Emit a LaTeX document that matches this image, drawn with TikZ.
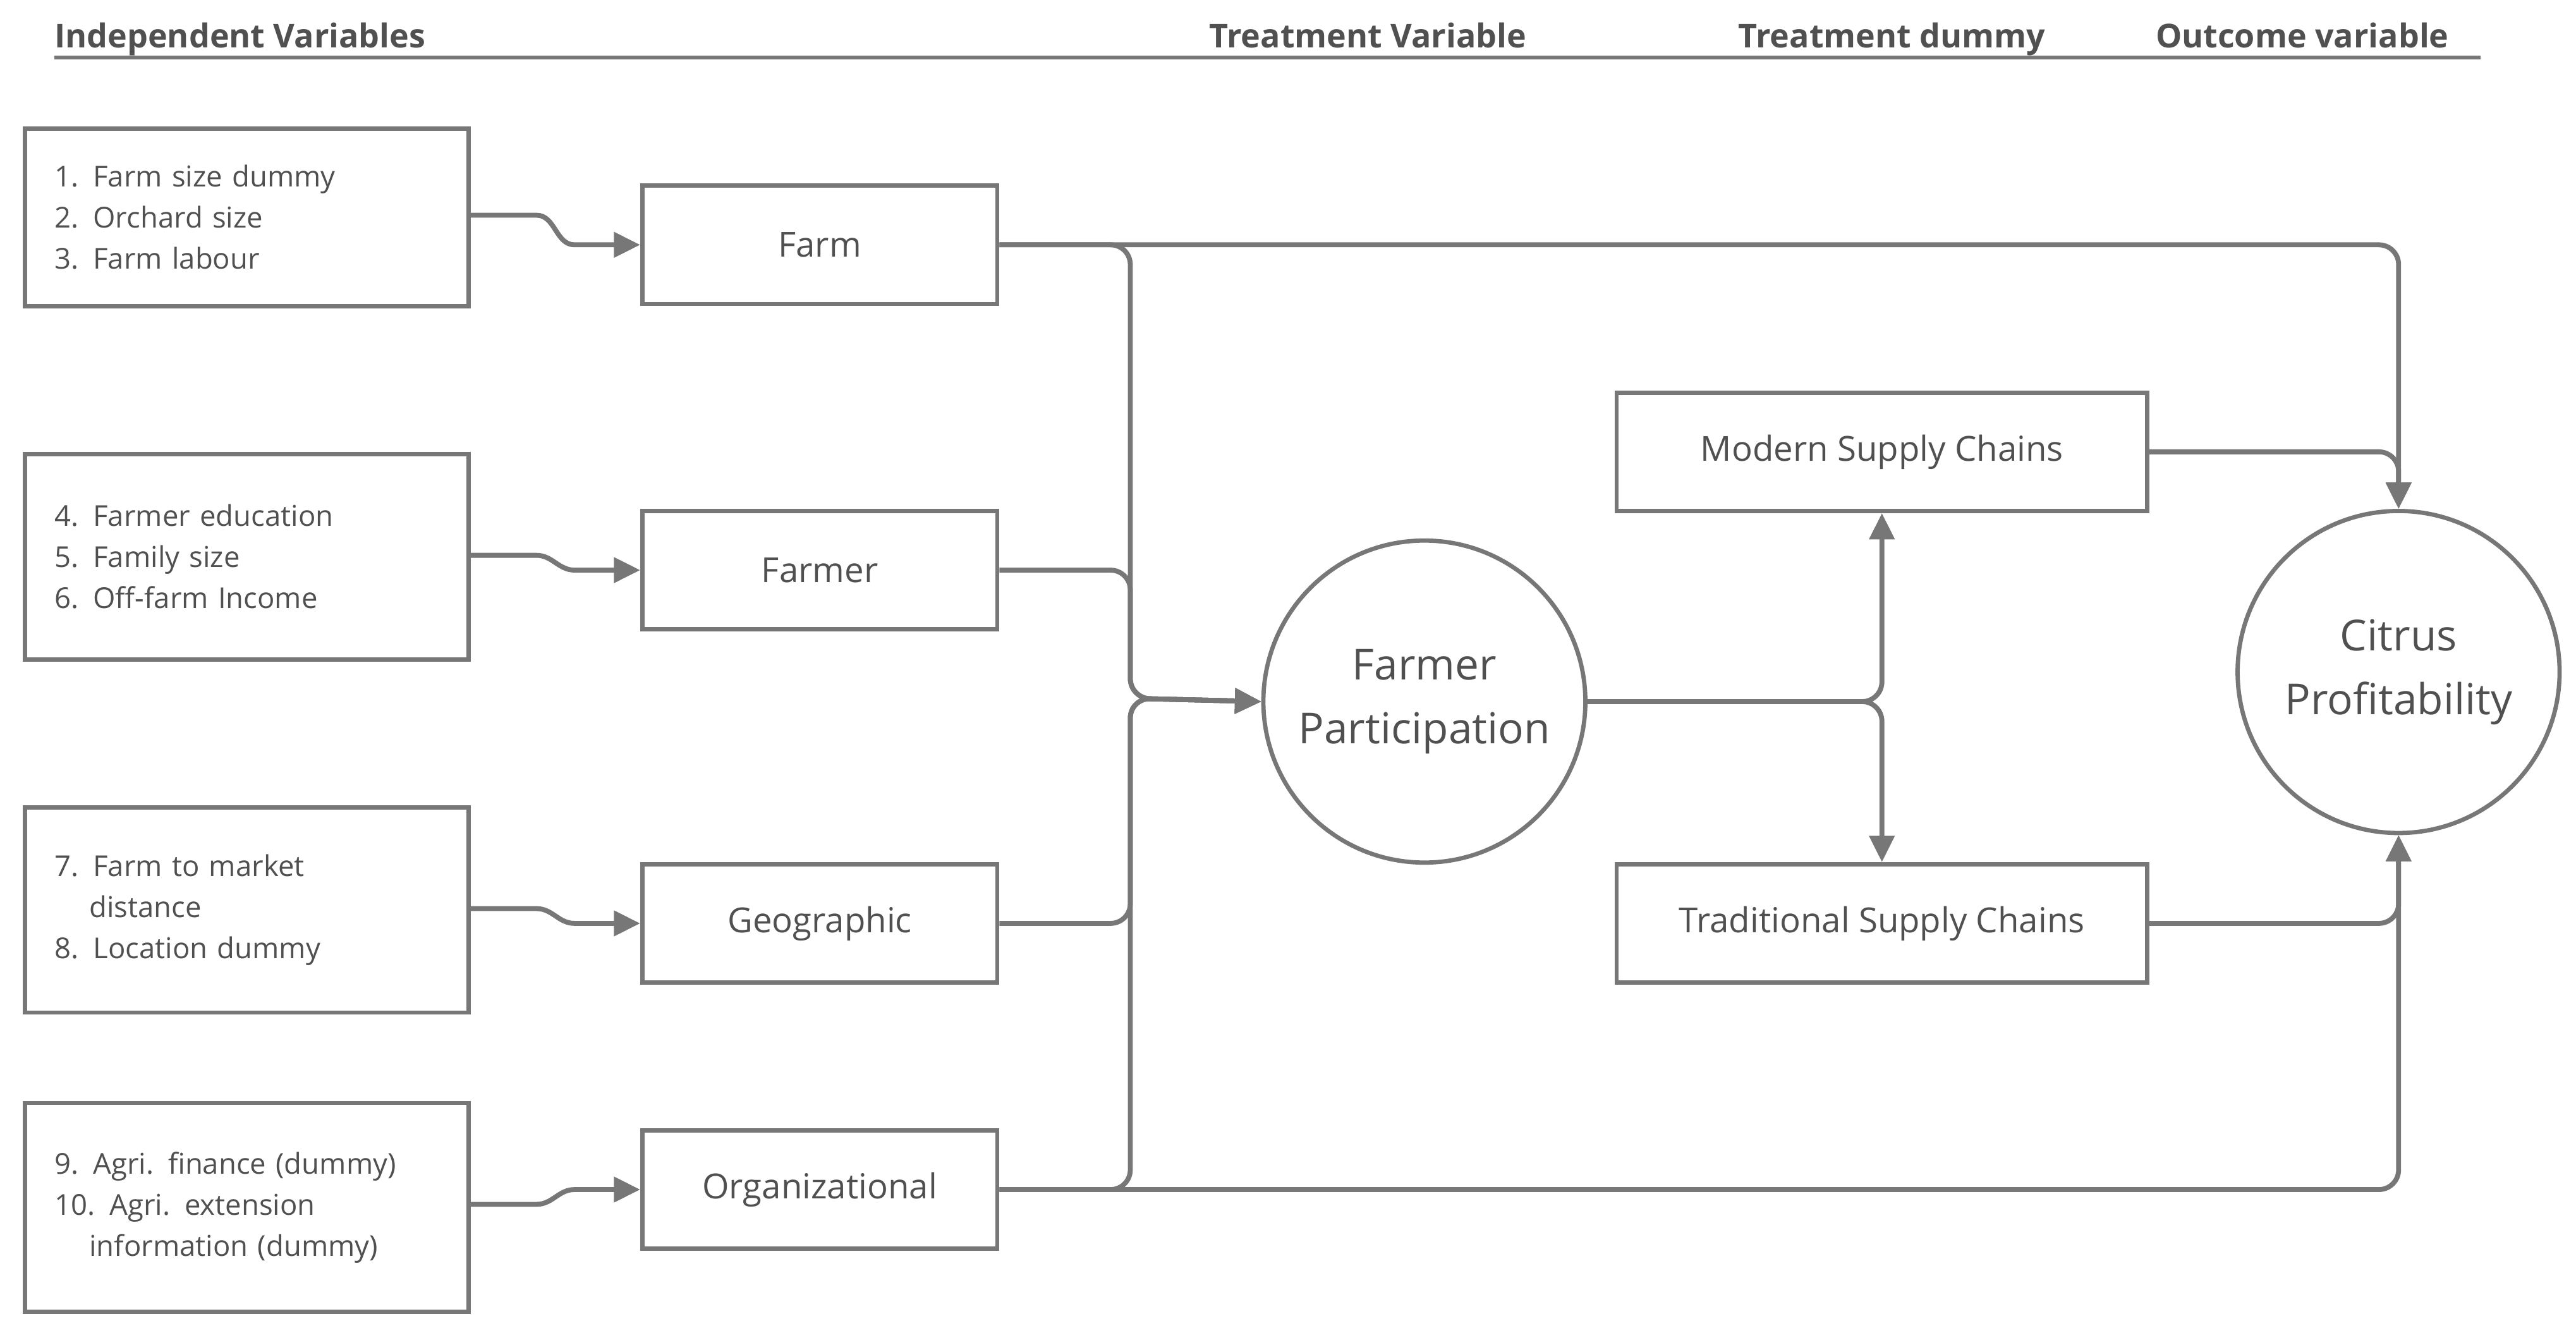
\documentclass[tikz,border=0pt]{standalone}
\usepackage{fontspec}
\setmainfont{Open Sans}
\usetikzlibrary{arrows.meta,calc}
\definecolor{ln}{HTML}{777777}
\definecolor{tx}{HTML}{505050}
\begin{document}
\begin{tikzpicture}[x=1pt,y=-1pt,
  box/.style={draw=ln,line width=2.6pt,text=tx,font=\fontsize{21}{25}\selectfont,inner sep=0pt},
  lbox/.style={draw=ln,line width=2.6pt,text=tx,font=\fontsize{17.5}{25}\selectfont,align=left,text width=234pt,inner xsep=18pt,minimum width=270pt,anchor=north west},
  circ/.style={draw=ln,line width=2.6pt,circle,minimum size=196pt,text=tx,align=center,font=\fontsize{26}{39}\selectfont},
  conn/.style={draw=ln,line width=3pt,-{Triangle[length=16pt,width=15pt]}},
  plain/.style={draw=ln,line width=3pt},
  hdr/.style={text=tx,font=\fontsize{20}{24}\selectfont\bfseries,anchor=base west,inner sep=0pt}]
\useasboundingbox (0,0) rectangle (1568,811);
\node[hdr] (h1) at (33,29) {Independent Variables};
\node[hdr] (h2) at (736,29) {Treatment Variable};
\node[hdr] (h3) at (1058,29) {Treatment dummy};
\node[hdr] (h4) at (1312,29) {Outcome variable};
\draw[ln,line width=2pt] (33,35) coordinate (ha) -- (1510,35) coordinate (hb);
% left boxes
\node[lbox,minimum height=108pt] (b1) at (14,77) {1. Farm size dummy\\2. Orchard size\\3. Farm labour};
\node[lbox,minimum height=125pt] (b2) at (14,275) {4. Farmer education\\5. Family size\\6. Off-farm Income};
\node[lbox,minimum height=125pt] (b3) at (14,490) {7. Farm to market\\\hspace*{1.2em}distance\\8. Location dummy};
\node[lbox,minimum height=127pt] (b4) at (14,670) {9. Agri. finance (dummy)\\10. Agri. extension\\\hspace*{1.2em}information (dummy)};
% middle boxes
\node[box,minimum width=216pt,minimum height=72pt] (farm) at (499,149) {Farm};
\node[box,minimum width=216pt,minimum height=72pt] (farmer) at (499,347) {Farmer};
\node[box,minimum width=216pt,minimum height=72pt] (geo) at (499,562) {Geographic};
\node[box,minimum width=216pt,minimum height=72pt] (org) at (499,724) {Organizational};
\node[circ] (fp) at (867,427) {Farmer\\Participation};
\node[circ] (cit) at (1460,409) {Citrus\\Profitability};
\node[box,minimum width=323pt,minimum height=72pt] (mod) at (1145.5,275) {Modern Supply Chains};
\node[box,minimum width=323pt,minimum height=72pt] (trad) at (1145.5,562) {Traditional Supply Chains};
% left connectors
\foreach \a/\b/\y in {b1/farm/131,b2/farmer/338,b3/geo/553,b4/org/733}{
  \draw[conn] (\a.east |- 0,\y) -- ++(40,0) to[out=0,in=180] ($(\b.west)+(-40,0)$) -- (\b.west);
}
% bus
\coordinate (bus) at (688,425);
\foreach \n in {farm,farmer,geo,org}{
  \draw[conn,rounded corners=12pt] (\n.east) -| (bus) -- (fp.west);
}
\draw[conn,rounded corners=12pt] (farm.east) -| (cit.north);
\draw[conn,rounded corners=12pt] (org.east) -| (cit.south);
\draw[conn,rounded corners=12pt] (fp.east) -| (mod.south);
\draw[conn,rounded corners=12pt] (fp.east) -| (trad.north);
\draw[conn,rounded corners=12pt] (mod.east) -| (cit.north);
\draw[conn,rounded corners=12pt] (trad.east) -| (cit.south);
\end{tikzpicture}
\end{document}
